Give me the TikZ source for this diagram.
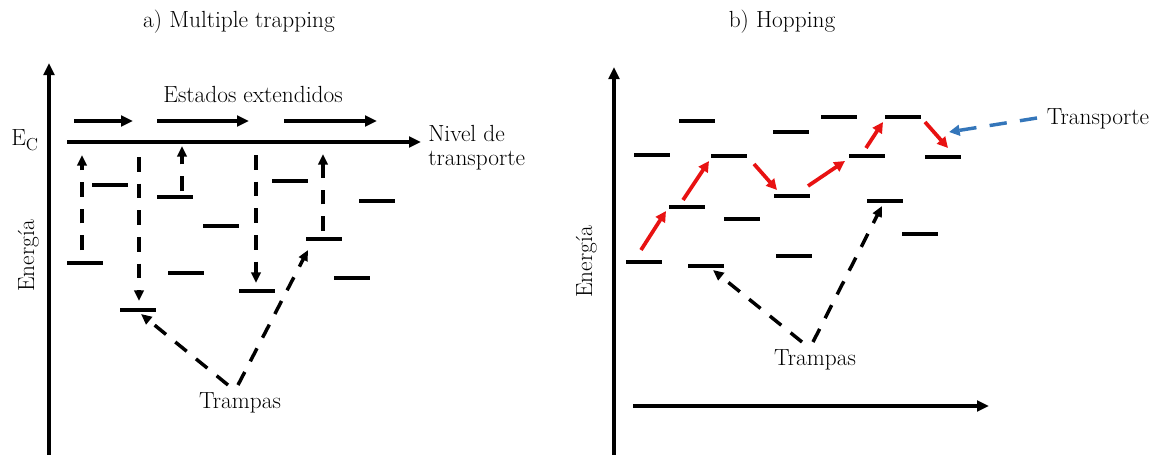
\documentclass[tikz,border=0pt]{standalone}
\usetikzlibrary{arrows.meta}
\definecolor{hopred}{RGB}{232,18,18}
\definecolor{trblue}{RGB}{52,118,186}
\begin{document}
\begin{tikzpicture}[x=0.75pt,y=-0.75pt,
  every node/.style={font=\fontsize{17.5}{21}\selectfont,inner sep=0pt},
  trap/.style={rectangle,fill=black,minimum width=27pt,minimum height=2.6pt,inner sep=0pt},
  axis/.style={line width=3pt,-{Triangle[length=9pt,width=8pt]}},
  flow/.style={line width=2.6pt,-{Triangle[length=9pt,width=8pt]}},
  jump/.style={line width=2.6pt,dash pattern=on 11pt off 9pt,-{Triangle[length=8pt,width=7pt]}},
  hop/.style={line width=2.8pt,hopred,-{Triangle[length=8pt,width=8pt]}},
  pointer/.style={line width=2.6pt,trblue,dash pattern=on 13pt off 10pt,-{Triangle[length=8pt,width=8pt]}}]
\useasboundingbox (0,0) rectangle (1157,454);

% ---------------- a) Multiple trapping ----------------
\node[anchor=base] (ta) at (239,27) {a) Multiple trapping};
\coordinate (ya0) at (49,456);
\coordinate (ya1) at (49,63);
\draw[axis] (ya0) -- (ya1);
\node[rotate=90,anchor=base] (ena) at (34,256) {Energía};
\node[anchor=base west] (ec) at (11,145) {E\raisebox{-0.22em}{\fontsize{13}{13}\selectfont C}};

% transport level (conduction band edge)
\coordinate (ec0) at (67,142);
\coordinate (ec1) at (421,142);
\draw[line width=2.6pt,-{Triangle[length=9pt,width=8pt]}] (ec0) -- (ec1);
\node[anchor=base west,align=left,font=\fontsize{17.5}{17.5}\selectfont] (niv) at (428,165) {Nivel de\\transporte};

% extended states
\node[anchor=base] (ext) at (253,102) {Estados extendidos};
\coordinate (e1a) at (74,121);  \coordinate (e1b) at (133,121);
\coordinate (e2a) at (157,121); \coordinate (e2b) at (249,121);
\coordinate (e3a) at (284,121); \coordinate (e3b) at (377,121);
\draw[flow] (e1a) -- (e1b);
\draw[flow] (e2a) -- (e2b);
\draw[flow] (e3a) -- (e3b);

% localized trap states
\node[trap] (a1) at (110,185) {};
\node[trap] (a2) at (175,197) {};
\node[trap] (a3) at (221,226) {};
\node[trap] (a4) at (85,263) {};
\node[trap] (a5) at (186,273) {};
\node[trap] (a6) at (257,291) {};
\node[trap] (a7) at (290,181) {};
\node[trap] (a8) at (377,201) {};
\node[trap] (a9) at (324,239) {};
\node[trap] (a10) at (352,278) {};
\node[trap] (a11) at (138,310) {};

% release and capture
\coordinate (r1a) at (82,250);  \coordinate (r1b) at (82,155);
\coordinate (c1a) at (139,157); \coordinate (c1b) at (139,301);
\coordinate (r2a) at (182,191); \coordinate (r2b) at (182,146);
\coordinate (c2a) at (256,155); \coordinate (c2b) at (256,283);
\coordinate (r3a) at (323,231); \coordinate (r3b) at (323,154);
\draw[jump] (r1a) -- (r1b);
\draw[jump] (c1a) -- (c1b);
\draw[jump] (r2a) -- (r2b);
\draw[jump] (c2a) -- (c2b);
\draw[jump] (r3a) -- (r3b);

\node[anchor=base] (tra) at (240,408) {Trampas};
\coordinate (tal) at (228,385);
\coordinate (tar) at (238,385);
\coordinate (tal1) at (141,314);
\coordinate (tar1) at (308,250);
\draw[jump] (tal) -- (tal1);
\draw[jump] (tar) -- (tar1);

% ---------------- b) Hopping ----------------
\node[anchor=base] (tb) at (782,27) {b) Hopping};
\coordinate (yb0) at (614,456);
\coordinate (yb1) at (614,67);
\draw[axis] (yb0) -- (yb1);
\coordinate (xb0) at (633,406);
\coordinate (xb1) at (989,406);
\draw[axis] (xb0) -- (xb1);
\node[rotate=90,anchor=base] (enb) at (592,262) {Energía};

% localized states
\node[trap] (b1) at (652,155) {};
\node[trap] (b2) at (697,121) {};
\node[trap] (b3) at (729,156) {};
\node[trap] (b4) at (687,207) {};
\node[trap] (b5) at (742,219) {};
\node[trap] (b6) at (644,262) {};
\node[trap] (b7) at (706,266) {};
\node[trap] (b8) at (791,132) {};
\node[trap] (b9) at (792,196) {};
\node[trap] (b10) at (794,256) {};
\node[trap] (b11) at (839,117) {};
\node[trap] (b12) at (867,156) {};
\node[trap] (b13) at (903,117) {};
\node[trap] (b14) at (943,157) {};
\node[trap] (b15) at (885,201) {};
\node[trap] (b16) at (920,234) {};

% hopping path
\coordinate (h1a) at (641,250); \coordinate (h1b) at (666,211);
\coordinate (h2a) at (683,200); \coordinate (h2b) at (709,161);
\coordinate (h3a) at (754,164); \coordinate (h3b) at (777,190);
\coordinate (h4a) at (808,186); \coordinate (h4b) at (845,161);
\coordinate (h5a) at (866,148); \coordinate (h5b) at (883,122);
\coordinate (h6a) at (925,122); \coordinate (h6b) at (948,148);
\draw[hop] (h1a) -- (h1b);
\draw[hop] (h2a) -- (h2b);
\draw[hop] (h3a) -- (h3b);
\draw[hop] (h4a) -- (h4b);
\draw[hop] (h5a) -- (h5b);
\draw[hop] (h6a) -- (h6b);

\node[anchor=base] (trp) at (1098,124) {Transporte};
\coordinate (p0) at (1037,118);
\coordinate (p1) at (949,132);
\draw[pointer] (p0) -- (p1);

\node[anchor=base] (trb) at (815,365) {Trampas};
\coordinate (tbl) at (802,342);
\coordinate (tbr) at (813,342);
\coordinate (tbl1) at (713,270);
\coordinate (tbr1) at (882,206);
\draw[jump] (tbl) -- (tbl1);
\draw[jump] (tbr) -- (tbr1);
\end{tikzpicture}
\end{document}
